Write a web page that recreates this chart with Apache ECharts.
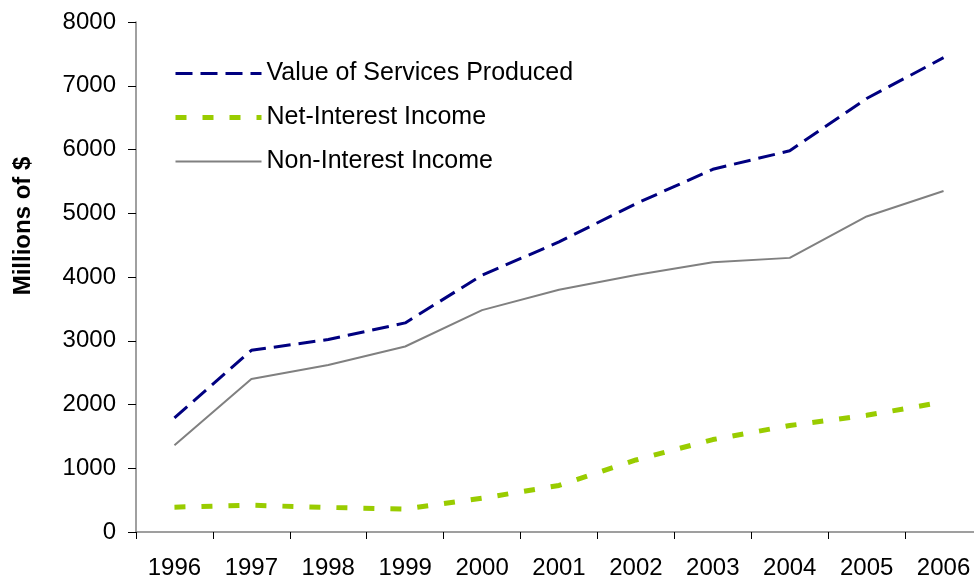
<!DOCTYPE html>
<html>
<head>
<meta charset="utf-8">
<script src="https://cdn.jsdelivr.net/npm/echarts@6/dist/echarts.min.js"></script>
<style>
  html, body { margin: 0; padding: 0; background: #ffffff; }
  #chart { width: 974px; height: 580px; }
</style>
</head>
<body>
<div id="chart"></div>
<script>
// Years on the category axis
const years = ['1996', '1997', '1998', '1999', '2000', '2001', '2002', '2003', '2004', '2005', '2006'];

// Millions of dollars per year
const valueOfServices = [1790, 2850, 3020, 3280, 4030, 4550, 5150, 5690, 5980, 6800, 7440];
const netInterest     = [390, 420, 385, 360, 530, 730, 1130, 1450, 1670, 1830, 2040];
const nonInterest     = [1360, 2400, 2620, 2910, 3480, 3800, 4030, 4230, 4300, 4950, 5350];

const seriesNames = ['Value of Services Produced', 'Net-Interest Income', 'Non-Interest Income'];

// Value axis ticks
const yMin = 0;
const yMax = 8000;
const yStep = 1000;

const FONT = '"Liberation Sans", Arial, sans-serif';

const styles = [
  { color: '#000080', width: 3, type: [17, 8] },
  { color: '#99CC00', width: 5, type: [11, 16] },
  { color: '#808080', width: 2, type: 'solid' }
];

const chart = echarts.init(document.getElementById('chart'), null, { renderer: 'canvas' });

chart.setOption({
  backgroundColor: '#ffffff',
  animation: false,
  textStyle: { fontFamily: FONT, color: '#000000' },
  grid: { left: 136, top: 22, width: 846, height: 510, containLabel: false, outerBoundsMode: 'none' },
  legend: {
    orient: 'vertical',
    left: 173,
    top: 61,
    padding: 0,
    itemWidth: 86,
    itemHeight: 14,
    itemGap: 19,
    itemStyle: { opacity: 0, borderWidth: 0 },
    data: seriesNames.map((n, i) => ({
      name: n,
      itemStyle: { opacity: 0 },
      lineStyle: { color: styles[i].color, width: styles[i].width, type: styles[i].type, opacity: 1 }
    })),
    textStyle: { fontFamily: FONT, fontSize: 25, color: '#000000', lineHeight: 25 }
  },
  xAxis: {
    type: 'category',
    data: years,
    boundaryGap: true,
    axisLine: { show: true, lineStyle: { color: '#808080', width: 1.5 } },
    axisTick: { show: true, length: 7, lineStyle: { color: '#000000', width: 1 } },
    axisLabel: { fontFamily: FONT, fontSize: 24, color: '#000000', margin: 24 },
    splitLine: { show: false }
  },
  yAxis: {
    type: 'value',
    min: yMin,
    max: yMax,
    interval: yStep,
    name: 'Millions of $',
    nameLocation: 'middle',
    nameRotate: 90,
    nameGap: 101,
    nameTextStyle: { fontFamily: FONT, fontSize: 24, fontWeight: 'bold', color: '#000000', padding: [0, 0, 0, 102] },
    axisLine: { show: true, lineStyle: { color: '#808080', width: 1.5 } },
    axisTick: { show: true, length: 8, lineStyle: { color: '#000000', width: 1 } },
    axisLabel: { fontFamily: FONT, fontSize: 24, color: '#000000', margin: 20, formatter: (v) => String(v) },
    splitLine: { show: false }
  },
  series: [
    {
      name: seriesNames[0],
      type: 'line',
      data: valueOfServices,
      symbol: 'none',
      z: 3,
      itemStyle: { color: styles[0].color },
      lineStyle: styles[0]
    },
    {
      name: seriesNames[1],
      type: 'line',
      data: netInterest,
      symbol: 'none',
      z: 2,
      itemStyle: { color: styles[1].color },
      lineStyle: styles[1]
    },
    {
      name: seriesNames[2],
      type: 'line',
      data: nonInterest,
      symbol: 'none',
      z: 1,
      itemStyle: { color: styles[2].color },
      lineStyle: styles[2]
    }
  ]
});
</script>
</body>
</html>
